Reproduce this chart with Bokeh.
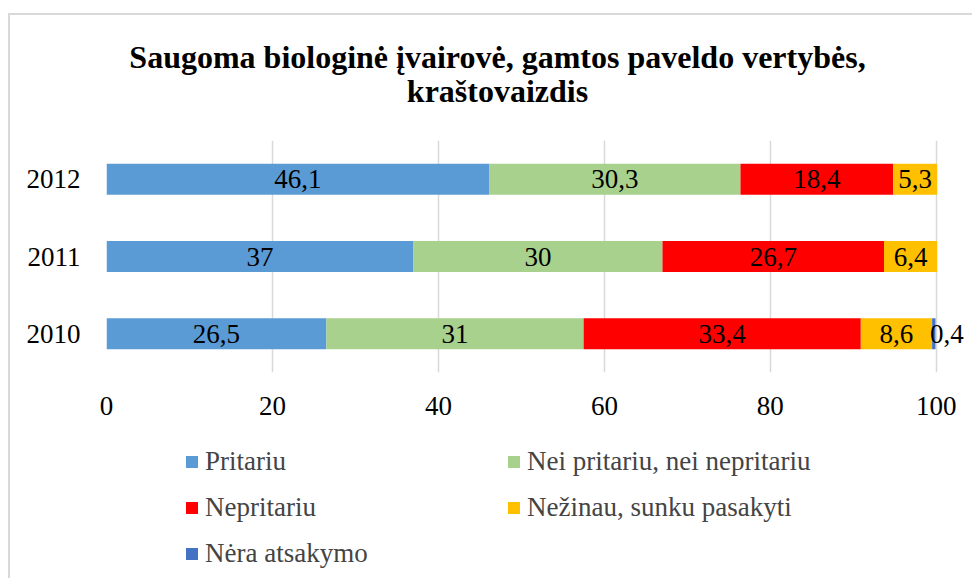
from bokeh.plotting import figure
from bokeh.models import (Range1d, FactorRange, Legend, LegendItem,
                          ColumnDataSource, FixedTicker)
from bokeh.layouts import column
from bokeh.core.properties import value
from bokeh.embed import file_html
from bokeh.resources import INLINE

years = ["2010", "2011", "2012"]
series = ["Pritariu", "Nei pritariu, nei nepritariu", "Nepritariu",
          "Nežinau, sunku pasakyti", "Nėra atsakymo"]
pritariu = [26.5, 37, 46.1]
nei = [31, 30, 30.3]
nepritariu = [33.4, 26.7, 18.4]
nezinau = [8.6, 6.4, 5.3]
nera = [0.4, 0, 0]
x_ticks = [0, 20, 40, 60, 80, 100]
title_lines = ["Saugoma biologinė įvairovė, gamtos paveldo vertybės,", "kraštovaizdis"]
colors = ["#5B9BD5", "#A9D18E", "#FF0000", "#FFC000", "#4472C4"]

FONT = "Liberation Serif"
W = 962
BL, BR = 96, 3   # borders shared by all stacked figures so their frames align

# ---- title figure ----
pt = figure(width=W, height=110, output_backend="svg", toolbar_location=None,
            x_range=Range1d(BL, W - BR), y_range=Range1d(110, 0),
            min_border_left=BL, min_border_right=BR, min_border_top=0,
            min_border_bottom=0, outline_line_color=None)
pt.axis.visible = False
pt.grid.visible = False
pt.text(x=[487, 487], y=[41, 75], text=title_lines, text_align="center",
        text_baseline="middle", text_font=value(FONT), text_font_size="32px",
        text_font_style="bold", text_color="black")

# ---- chart figure ----
keys = ["s0", "s1", "s2", "s3", "s4"]
data = dict(year=years)
for k, vals in zip(keys, [pritariu, nei, nepritariu, nezinau, nera]):
    data[k] = vals
src = ColumnDataSource(data)

p = figure(width=W, height=310, output_backend="svg", toolbar_location=None,
           x_range=Range1d(0, 104), y_range=FactorRange(*years, range_padding=0),
           min_border_left=BL, min_border_right=BR, min_border_top=15,
           min_border_bottom=63, outline_line_color=None)

renderers = p.hbar_stack(keys, y="year", height=0.4, color=colors, source=src,
                         line_color=None)

lx, ly, lt, lo = [], [], [], []
for i, y in enumerate(years):
    left = 0
    for vals in [pritariu, nei, nepritariu, nezinau, nera]:
        v = vals[i]
        if v > 0:
            lx.append(left + v / 2)
            ly.append(y)
            lt.append(f"{v:g}".replace(".", ","))
            lo.append(13 if v < 1 else 0)
        left += v
p.text(x=lx, y=ly, text=lt, x_offset=lo, text_align="center", text_baseline="middle",
       text_font=value(FONT), text_font_size="27px", text_color="black")

p.xaxis.ticker = FixedTicker(ticks=x_ticks)
for ax in [p.xaxis[0], p.yaxis[0]]:
    ax.axis_line_color = None
    ax.major_tick_line_color = None
    ax.minor_tick_line_color = None
    ax.major_label_text_font = FONT
    ax.major_label_text_font_size = "27px"
    ax.major_label_text_color = "black"
p.xaxis.major_label_standoff = 18
p.yaxis.major_label_standoff = 20
p.xgrid.ticker = FixedTicker(ticks=x_ticks)
p.xgrid.grid_line_color = "#d9d9d9"
p.xgrid.grid_line_width = 1.5
p.ygrid.grid_line_color = None

# ---- legend figure ----
pl = figure(width=W, height=143, output_backend="svg", toolbar_location=None,
            x_range=Range1d(0, 1), y_range=Range1d(0, 1),
            min_border_left=BL, min_border_right=BR, min_border_top=0,
            min_border_bottom=0, outline_line_color=None)
pl.axis.visible = False
pl.grid.visible = False
nan = float("nan")
dummies = [pl.hbar(y=[nan], right=[nan], height=0.4, color=c, line_color=None)
           for c in colors]

def make_legend(idx, loc):
    return Legend(items=[LegendItem(label=series[i], renderers=[dummies[i]]) for i in idx],
                  location=loc, orientation="vertical", glyph_width=15, glyph_height=15,
                  label_height=40, spacing=6, padding=0, margin=0, label_standoff=6,
                  label_text_font=FONT, label_text_font_size="27px",
                  border_line_alpha=0, background_fill_alpha=0)

pl.add_layout(make_legend([0, 2, 4], (78, 5)), "center")
pl.add_layout(make_legend([1, 3], (400, 51)), "center")

layout = column(pt, p, pl, spacing=0,
                styles={"border-top": "2px solid #d9d9d9", "border-left": "2px solid #d9d9d9",
                        "margin-top": "13px", "margin-left": "8px"})

open("out.html", "w").write(file_html(layout, INLINE))
